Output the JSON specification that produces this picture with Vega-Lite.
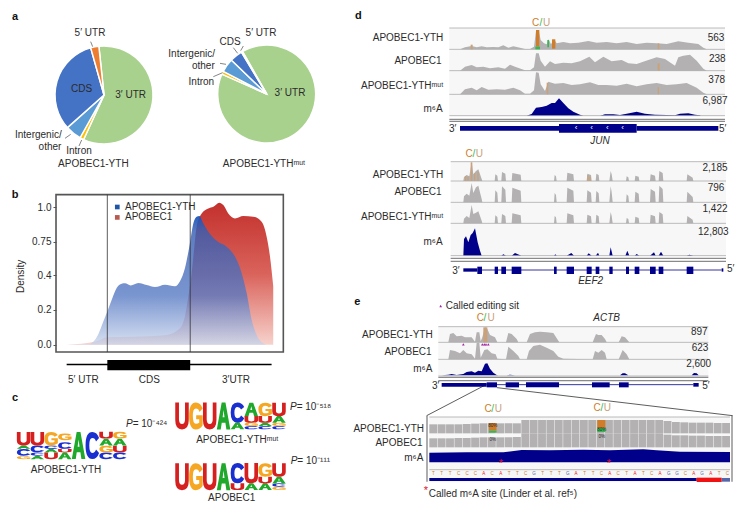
{"$schema":"https://vega.github.io/schema/vega-lite/v6.json","width":746,"height":506,"autosize":{"type":"none"},"padding":0,"background":"white","config":{"view":{"stroke":null},"font":"Liberation Sans","text":{"fontSize":10,"color":"#2b2b2b","baseline":"middle"}},
"datasets":{
"pie1":[{"pie":"APOBEC1-YTH","region":"3′ UTR","rank":1,"pct":58.5},{"pie":"APOBEC1-YTH","region":"Intron","rank":2,"pct":1.3},{"pie":"APOBEC1-YTH","region":"Intergenic/other","rank":3,"pct":5.3},{"pie":"APOBEC1-YTH","region":"CDS","rank":4,"pct":32.2},{"pie":"APOBEC1-YTH","region":"5′ UTR","rank":5,"pct":2.7}],
"pie2":[{"pie":"APOBEC1-YTHmut","region":"3′ UTR","rank":1,"pct":89.9},{"pie":"APOBEC1-YTHmut","region":"Intron","rank":2,"pct":1},{"pie":"APOBEC1-YTHmut","region":"Intergenic/other","rank":3,"pct":4.5},{"pie":"APOBEC1-YTHmut","region":"CDS","rank":4,"pct":4.2},{"pie":"APOBEC1-YTHmut","region":"5′ UTR","rank":5,"pct":0.4}],
"blue":[{"x":0.32,"y":0},{"x":10.84,"y":0.002},{"x":13.26,"y":0.017},{"x":15.69,"y":0.06},{"x":18.12,"y":0.132},{"x":20.06,"y":0.19},{"x":22.16,"y":0.256},{"x":24.59,"y":0.325},{"x":27.02,"y":0.35},{"x":28.64,"y":0.352},{"x":31.39,"y":0.34},{"x":35.11,"y":0.354},{"x":39.15,"y":0.342},{"x":43.2,"y":0.331},{"x":48.05,"y":0.344},{"x":52.9,"y":0.335},{"x":55.33,"y":0.364},{"x":57.76,"y":0.473},{"x":59.86,"y":0.698},{"x":61.8,"y":0.882},{"x":63.42,"y":0.93},{"x":64.72,"y":0.935},{"x":66.66,"y":0.882},{"x":69.09,"y":0.822},{"x":73.13,"y":0.757},{"x":77.98,"y":0.698},{"x":82.03,"y":0.594},{"x":85.27,"y":0.421},{"x":87.69,"y":0.296},{"x":90.12,"y":0.142},{"x":92.55,"y":0.056},{"x":95.78,"y":0.008},{"x":97.4,"y":0},{"x":100.6,"y":0}],
"red":[{"x":0.32,"y":0},{"x":14.9,"y":0.02},{"x":20.06,"y":0.042},{"x":32.68,"y":0.046},{"x":48.86,"y":0.056},{"x":55.33,"y":0.094},{"x":57.76,"y":0.162},{"x":59.4,"y":0.277},{"x":61.0,"y":0.42},{"x":62.3,"y":0.698},{"x":63.42,"y":0.858},{"x":65.85,"y":0.954},{"x":69.09,"y":0.99},{"x":71.52,"y":1.002},{"x":74.42,"y":1.031},{"x":76.37,"y":1.014},{"x":78.79,"y":0.954},{"x":82.03,"y":0.918},{"x":86.07,"y":0.935},{"x":90.93,"y":0.93},{"x":94.97,"y":0.894},{"x":97.4,"y":0.786},{"x":99.02,"y":0.594},{"x":100.6,"y":0.335}],
"logo1":[{"p":1,"y":1.7,"g":"G025","l":"G"},{"p":1,"y":6.8,"g":"C05","l":"C"},{"p":1,"y":11.9,"g":"A025","l":"A"},{"p":1,"y":20.2,"g":"U1","l":"U"},{"p":2,"y":1.7,"g":"A025","l":"A"},{"p":2,"y":5.1,"g":"C025","l":"C"},{"p":2,"y":10.1,"g":"C05","l":"C"},{"p":2,"y":20.2,"g":"U1","l":"U"},{"p":3,"y":3.4,"g":"U05","l":"U"},{"p":3,"y":8.4,"g":"A025","l":"A"},{"p":3,"y":11.8,"g":"C025","l":"C"},{"p":3,"y":20.2,"g":"G1","l":"G"},{"p":4,"y":3.4,"g":"A05","l":"A"},{"p":4,"y":8.4,"g":"U025","l":"U"},{"p":4,"y":13.5,"g":"C05","l":"C"},{"p":4,"y":22,"g":"G05","l":"G"},{"p":5,"y":13.5,"g":"A2","l":"A"},{"p":6,"y":13.5,"g":"C2","l":"C"},{"p":7,"y":3.4,"g":"C05","l":"C"},{"p":7,"y":10,"g":"G05","l":"G"},{"p":7,"y":16.9,"g":"A05","l":"A"},{"p":7,"y":23.6,"g":"U05","l":"U"},{"p":8,"y":3.4,"g":"C05","l":"C"},{"p":8,"y":10,"g":"U05","l":"U"},{"p":8,"y":16.9,"g":"A05","l":"A"},{"p":8,"y":23.6,"g":"G05","l":"G"}],
"logo2":[{"p":1,"y":13.5,"g":"U2","l":"U"},{"p":2,"y":13.5,"g":"G2","l":"G"},{"p":3,"y":13.5,"g":"U2","l":"U"},{"p":4,"y":13.5,"g":"A2","l":"A"},{"p":5,"y":3.4,"g":"A05","l":"A"},{"p":5,"y":17,"g":"C15","l":"C"},{"p":6,"y":1.7,"g":"C025","l":"C"},{"p":6,"y":5.1,"g":"G025","l":"G"},{"p":6,"y":10,"g":"U05","l":"U"},{"p":6,"y":20.2,"g":"A1","l":"A"},{"p":7,"y":1.7,"g":"C025","l":"C"},{"p":7,"y":5,"g":"A025","l":"A"},{"p":7,"y":10,"g":"U05","l":"U"},{"p":7,"y":20.2,"g":"G1","l":"G"},{"p":8,"y":1.7,"g":"C025","l":"C"},{"p":8,"y":5,"g":"G025","l":"G"},{"p":8,"y":10,"g":"A05","l":"A"},{"p":8,"y":20.2,"g":"U1","l":"U"}],
"logo3":[{"p":1,"y":13.5,"g":"U2","l":"U"},{"p":2,"y":13.5,"g":"G2","l":"G"},{"p":3,"y":13.5,"g":"U2","l":"U"},{"p":4,"y":13.5,"g":"A2","l":"A"},{"p":5,"y":3.4,"g":"U05","l":"U"},{"p":5,"y":17,"g":"C15","l":"C"},{"p":6,"y":3.4,"g":"A05","l":"A"},{"p":6,"y":17,"g":"U15","l":"U"},{"p":7,"y":3.4,"g":"A05","l":"A"},{"p":7,"y":10,"g":"U05","l":"U"},{"p":7,"y":20.2,"g":"G1","l":"G"},{"p":8,"y":1.7,"g":"G025","l":"G"},{"p":8,"y":5,"g":"C025","l":"C"},{"p":8,"y":10,"g":"A05","l":"A"},{"p":8,"y":20.2,"g":"U1","l":"U"}],
"d1a":[{"x":330,"h":0},{"x":345,"h":6},{"x":365,"h":10},{"x":380,"h":6},{"x":395,"h":9},{"x":410,"h":6},{"x":430,"h":7},{"x":445,"h":6},{"x":460,"h":12},{"x":475,"h":5},{"x":490,"h":9},{"x":510,"h":5},{"x":525,"h":1},{"x":540,"h":1},{"x":552,"h":8},{"x":558,"h":55},{"x":566,"h":58},{"x":572,"h":28},{"x":582,"h":18},{"x":590,"h":15},{"x":596,"h":30},{"x":603,"h":15},{"x":612,"h":30},{"x":620,"h":18},{"x":640,"h":22},{"x":660,"h":18},{"x":685,"h":20},{"x":715,"h":25},{"x":740,"h":20},{"x":770,"h":22},{"x":800,"h":18},{"x":830,"h":22},{"x":860,"h":16},{"x":890,"h":20},{"x":920,"h":18},{"x":950,"h":16},{"x":985,"h":24},{"x":1015,"h":20},{"x":1045,"h":16},{"x":1060,"h":5},{"x":1070,"h":0}],
"d1b":[{"x":330,"h":0},{"x":345,"h":12},{"x":365,"h":17},{"x":380,"h":10},{"x":400,"h":12},{"x":420,"h":7},{"x":445,"h":10},{"x":465,"h":6},{"x":480,"h":18},{"x":495,"h":12},{"x":525,"h":1},{"x":540,"h":1},{"x":552,"h":10},{"x":558,"h":52},{"x":566,"h":52},{"x":572,"h":30},{"x":585,"h":12},{"x":600,"h":28},{"x":615,"h":20},{"x":640,"h":24},{"x":665,"h":22},{"x":690,"h":28},{"x":718,"h":42},{"x":735,"h":25},{"x":760,"h":42},{"x":785,"h":28},{"x":815,"h":32},{"x":835,"h":22},{"x":860,"h":20},{"x":895,"h":32},{"x":920,"h":40},{"x":945,"h":35},{"x":975,"h":15},{"x":985,"h":40},{"x":1000,"h":45},{"x":1020,"h":48},{"x":1040,"h":30},{"x":1060,"h":6},{"x":1070,"h":0}],
"d1c":[{"x":330,"h":0},{"x":345,"h":15},{"x":365,"h":20},{"x":380,"h":12},{"x":395,"h":22},{"x":415,"h":14},{"x":440,"h":15},{"x":465,"h":14},{"x":490,"h":20},{"x":510,"h":12},{"x":525,"h":2},{"x":540,"h":2},{"x":552,"h":12},{"x":558,"h":66},{"x":566,"h":65},{"x":572,"h":30},{"x":585,"h":10},{"x":595,"h":38},{"x":615,"h":32},{"x":640,"h":34},{"x":665,"h":28},{"x":690,"h":30},{"x":720,"h":36},{"x":745,"h":28},{"x":770,"h":28},{"x":800,"h":26},{"x":830,"h":32},{"x":860,"h":24},{"x":890,"h":30},{"x":920,"h":34},{"x":950,"h":28},{"x":980,"h":30},{"x":1010,"h":34},{"x":1040,"h":20},{"x":1060,"h":5},{"x":1070,"h":0}],
"d1m":[{"x":530,"h":0},{"x":545,"h":5},{"x":558,"h":24},{"x":575,"h":26},{"x":590,"h":30},{"x":605,"h":38},{"x":615,"h":38},{"x":627,"h":52},{"x":640,"h":38},{"x":655,"h":22},{"x":670,"h":12},{"x":690,"h":3},{"x":700,"h":0},{"x":750,"h":0},{"x":765,"h":4},{"x":790,"h":4},{"x":810,"h":2},{"x":830,"h":6},{"x":860,"h":12},{"x":885,"h":6},{"x":915,"h":3},{"x":950,"h":2},{"x":975,"h":1},{"x":990,"h":6},{"x":1015,"h":7},{"x":1035,"h":3},{"x":1050,"h":1},{"x":1052,"h":0}],
"d2a":[{"x":340,"h":0},{"x":342,"h":12},{"x":350,"h":18},{"x":358,"h":14},{"x":365,"h":58},{"x":370,"h":20},{"x":378,"h":30},{"x":385,"h":35},{"x":395,"h":6},{"x":397,"h":0},{"x":434,"h":0},{"x":436,"h":20},{"x":442,"h":16},{"x":444,"h":0},{"x":454,"h":0},{"x":456,"h":27},{"x":466,"h":22},{"x":468,"h":0},{"x":485,"h":0},{"x":487,"h":24},{"x":512,"h":19},{"x":514,"h":0},{"x":612,"h":0},{"x":614,"h":18},{"x":618,"h":14},{"x":620,"h":0},{"x":650,"h":0},{"x":652,"h":25},{"x":670,"h":20},{"x":672,"h":0},{"x":710,"h":0},{"x":712,"h":22},{"x":723,"h":18},{"x":725,"h":0},{"x":737,"h":0},{"x":739,"h":22},{"x":746,"h":18},{"x":748,"h":0},{"x":778,"h":0},{"x":782,"h":30},{"x":785,"h":20},{"x":788,"h":0},{"x":828,"h":0},{"x":830,"h":14},{"x":835,"h":11},{"x":837,"h":0},{"x":854,"h":0},{"x":856,"h":16},{"x":866,"h":13},{"x":868,"h":0},{"x":900,"h":0},{"x":902,"h":20},{"x":915,"h":16},{"x":917,"h":0},{"x":926,"h":0},{"x":928,"h":30},{"x":938,"h":24},{"x":940,"h":0},{"x":1010,"h":0},{"x":1012,"h":20},{"x":1028,"h":10},{"x":1030,"h":0}],
"d2b":[{"x":340,"h":0},{"x":342,"h":18},{"x":350,"h":26},{"x":358,"h":20},{"x":365,"h":58},{"x":370,"h":28},{"x":378,"h":45},{"x":385,"h":50},{"x":395,"h":10},{"x":397,"h":0},{"x":434,"h":0},{"x":436,"h":36},{"x":442,"h":29},{"x":444,"h":0},{"x":454,"h":0},{"x":456,"h":48},{"x":466,"h":38},{"x":468,"h":0},{"x":485,"h":0},{"x":487,"h":44},{"x":512,"h":35},{"x":514,"h":0},{"x":612,"h":0},{"x":614,"h":28},{"x":618,"h":22},{"x":620,"h":0},{"x":650,"h":0},{"x":652,"h":44},{"x":670,"h":35},{"x":672,"h":0},{"x":710,"h":0},{"x":712,"h":36},{"x":723,"h":29},{"x":725,"h":0},{"x":737,"h":0},{"x":739,"h":34},{"x":746,"h":27},{"x":748,"h":0},{"x":778,"h":0},{"x":782,"h":48},{"x":785,"h":30},{"x":788,"h":0},{"x":828,"h":0},{"x":830,"h":24},{"x":835,"h":19},{"x":837,"h":0},{"x":854,"h":0},{"x":856,"h":32},{"x":866,"h":26},{"x":868,"h":0},{"x":900,"h":0},{"x":902,"h":40},{"x":915,"h":32},{"x":917,"h":0},{"x":926,"h":0},{"x":928,"h":50},{"x":938,"h":40},{"x":940,"h":0},{"x":1010,"h":0},{"x":1012,"h":32},{"x":1028,"h":16},{"x":1030,"h":0}],
"d2c":[{"x":340,"h":0},{"x":342,"h":14},{"x":350,"h":22},{"x":358,"h":16},{"x":365,"h":55},{"x":370,"h":28},{"x":378,"h":32},{"x":385,"h":36},{"x":395,"h":8},{"x":397,"h":0},{"x":434,"h":0},{"x":436,"h":24},{"x":442,"h":19},{"x":444,"h":0},{"x":454,"h":0},{"x":456,"h":28},{"x":466,"h":22},{"x":468,"h":0},{"x":485,"h":0},{"x":487,"h":30},{"x":512,"h":24},{"x":514,"h":0},{"x":612,"h":0},{"x":614,"h":22},{"x":618,"h":18},{"x":620,"h":0},{"x":650,"h":0},{"x":652,"h":30},{"x":670,"h":24},{"x":672,"h":0},{"x":710,"h":0},{"x":712,"h":26},{"x":723,"h":21},{"x":725,"h":0},{"x":737,"h":0},{"x":739,"h":26},{"x":746,"h":21},{"x":748,"h":0},{"x":778,"h":0},{"x":782,"h":34},{"x":785,"h":22},{"x":788,"h":0},{"x":828,"h":0},{"x":830,"h":16},{"x":835,"h":13},{"x":837,"h":0},{"x":854,"h":0},{"x":856,"h":20},{"x":866,"h":16},{"x":868,"h":0},{"x":900,"h":0},{"x":902,"h":26},{"x":915,"h":21},{"x":917,"h":0},{"x":926,"h":0},{"x":928,"h":34},{"x":938,"h":27},{"x":940,"h":0},{"x":1010,"h":0},{"x":1012,"h":22},{"x":1028,"h":11},{"x":1030,"h":0}],
"d2m":[{"x":340,"h":0},{"x":342,"h":50},{"x":348,"h":58},{"x":355,"h":40},{"x":362,"h":62},{"x":368,"h":68},{"x":375,"h":82},{"x":383,"h":40},{"x":390,"h":15},{"x":395,"h":0},{"x":454,"h":0},{"x":460,"h":4},{"x":468,"h":0},{"x":485,"h":0},{"x":495,"h":8},{"x":514,"h":0},{"x":612,"h":0},{"x":616,"h":4},{"x":620,"h":0},{"x":650,"h":0},{"x":664,"h":8},{"x":672,"h":0},{"x":710,"h":0},{"x":716,"h":7},{"x":725,"h":0},{"x":737,"h":0},{"x":744,"h":9},{"x":748,"h":0},{"x":778,"h":0},{"x":782,"h":25},{"x":788,"h":0},{"x":826,"h":0},{"x":832,"h":15},{"x":838,"h":0},{"x":854,"h":0},{"x":860,"h":5},{"x":868,"h":0},{"x":900,"h":0},{"x":912,"h":10},{"x":917,"h":0},{"x":926,"h":0},{"x":933,"h":12},{"x":940,"h":0},{"x":1010,"h":0},{"x":1018,"h":3},{"x":1030,"h":0}],
"ea":[{"x":295,"h":0},{"x":300,"h":25},{"x":310,"h":28},{"x":320,"h":18},{"x":335,"h":20},{"x":345,"h":15},{"x":365,"h":15},{"x":375,"h":2},{"x":380,"h":30},{"x":388,"h":30},{"x":392,"h":3},{"x":397,"h":15},{"x":405,"h":45},{"x":412,"h":40},{"x":420,"h":22},{"x":435,"h":15},{"x":442,"h":0},{"x":468,"h":0},{"x":475,"h":28},{"x":485,"h":25},{"x":500,"h":10},{"x":505,"h":0},{"x":530,"h":0},{"x":540,"h":25},{"x":555,"h":30},{"x":570,"h":32},{"x":590,"h":30},{"x":610,"h":28},{"x":625,"h":5},{"x":628,"h":0},{"x":728,"h":0},{"x":738,"h":25},{"x":745,"h":22},{"x":755,"h":22},{"x":765,"h":10},{"x":770,"h":0},{"x":806,"h":0},{"x":815,"h":18},{"x":825,"h":15},{"x":838,"h":0}],
"eb":[{"x":295,"h":0},{"x":300,"h":28},{"x":315,"h":25},{"x":330,"h":18},{"x":340,"h":28},{"x":350,"h":18},{"x":365,"h":15},{"x":375,"h":2},{"x":380,"h":50},{"x":388,"h":50},{"x":392,"h":5},{"x":397,"h":15},{"x":403,"h":28},{"x":412,"h":30},{"x":425,"h":18},{"x":437,"h":15},{"x":442,"h":2},{"x":468,"h":0},{"x":475,"h":38},{"x":490,"h":25},{"x":505,"h":10},{"x":510,"h":0},{"x":530,"h":0},{"x":537,"h":25},{"x":550,"h":40},{"x":570,"h":44},{"x":590,"h":35},{"x":610,"h":25},{"x":625,"h":8},{"x":640,"h":2},{"x":728,"h":0},{"x":735,"h":25},{"x":745,"h":20},{"x":755,"h":28},{"x":765,"h":20},{"x":770,"h":0},{"x":806,"h":0},{"x":818,"h":28},{"x":830,"h":15},{"x":838,"h":0}],
"em":[{"x":275,"h":0},{"x":295,"h":2},{"x":305,"h":4},{"x":320,"h":1},{"x":340,"h":4},{"x":350,"h":10},{"x":365,"h":12},{"x":375,"h":8},{"x":385,"h":14},{"x":395,"h":12},{"x":405,"h":35},{"x":412,"h":36},{"x":420,"h":20},{"x":430,"h":8},{"x":440,"h":1},{"x":445,"h":0},{"x":470,"h":0},{"x":480,"h":2},{"x":495,"h":0},{"x":810,"h":0},{"x":818,"h":6},{"x":825,"h":6},{"x":835,"h":0},{"x":1025,"h":0},{"x":1032,"h":7},{"x":1040,"h":6},{"x":1046,"h":0}],
"zm":[{"x":238,"h":29},{"x":350,"h":30},{"x":460,"h":30},{"x":515,"h":37},{"x":600,"h":36},{"x":700,"h":38},{"x":780,"h":36},{"x":880,"h":39},{"x":920,"h":36},{"x":990,"h":32},{"x":1140,"h":31}],
"barsA":[{"b":0,"h":27},{"b":1,"h":27},{"b":2,"h":27},{"b":3,"h":27},{"b":4,"h":28},{"b":5,"h":29},{"b":6,"h":30},{"b":7,"h":30},{"b":8,"h":30},{"b":9,"h":30},{"b":10,"h":30},{"b":11,"h":40},{"b":12,"h":40},{"b":13,"h":40},{"b":14,"h":40},{"b":15,"h":40},{"b":16,"h":40},{"b":17,"h":40},{"b":18,"h":40},{"b":19,"h":40},{"b":20,"h":40},{"b":21,"h":40},{"b":22,"h":40},{"b":23,"h":40},{"b":24,"h":40},{"b":25,"h":40},{"b":26,"h":40},{"b":27,"h":40},{"b":28,"h":37},{"b":29,"h":34},{"b":30,"h":33},{"b":31,"h":32},{"b":32,"h":32},{"b":33,"h":32},{"b":34,"h":31},{"b":35,"h":31}],
"barsB":[{"b":0,"h":27},{"b":1,"h":27},{"b":2,"h":27},{"b":3,"h":28},{"b":4,"h":28},{"b":5,"h":29},{"b":6,"h":30},{"b":7,"h":30},{"b":8,"h":30},{"b":9,"h":30},{"b":10,"h":31},{"b":11,"h":42},{"b":12,"h":42},{"b":13,"h":42},{"b":14,"h":42},{"b":15,"h":42},{"b":16,"h":42},{"b":17,"h":42},{"b":18,"h":42},{"b":19,"h":42},{"b":20,"h":42},{"b":21,"h":42},{"b":22,"h":42},{"b":23,"h":42},{"b":24,"h":42},{"b":25,"h":42},{"b":26,"h":42},{"b":27,"h":42},{"b":28,"h":38},{"b":29,"h":36},{"b":30,"h":36},{"b":31,"h":35},{"b":32,"h":35},{"b":33,"h":34},{"b":34,"h":34},{"b":35,"h":34}]
},
"resolve":{"scale":{"x":"independent","y":"independent","color":"independent","shape":"independent","theta":"independent"},"axis":{"y":"independent","x":"independent"}},
"layer":[
{"data":{"name":"pie1"},"mark":{"type":"arc","outerRadius":49,"stroke":"white","strokeWidth":1.5},"encoding":{"x":{"field":"pie","type":"nominal","scale":{"type":"point","range":[104,104]},"axis":null},"y":{"field":"pie","type":"nominal","scale":{"type":"point","range":[95,95]},"axis":null},"theta":{"field":"pct","type":"quantitative","scale":{"domain":[0,100],"range":[-0.105,6.178]}},"order":{"field":"rank"},"color":{"field":"region","type":"nominal","legend":null,"scale":{"domain":["3′ UTR","Intron","Intergenic/other","CDS","5′ UTR"],"range":["#a9d18e","#ffc000","#5b9bd5","#4472c4","#ed7d31"]}}}},
{"data":{"name":"pie2"},"mark":{"type":"arc","outerRadius":49,"stroke":"white","strokeWidth":1.5},"encoding":{"x":{"field":"pie","type":"nominal","scale":{"type":"point","range":[266.7,266.7]},"axis":null},"y":{"field":"pie","type":"nominal","scale":{"type":"point","range":[94,94]},"axis":null},"theta":{"field":"pct","type":"quantitative","scale":{"domain":[0,100],"range":[-0.517,5.766]}},"order":{"field":"rank"},"color":{"field":"region","type":"nominal","legend":null,"scale":{"domain":["3′ UTR","Intron","Intergenic/other","CDS","5′ UTR"],"range":["#a9d18e","#ffc000","#5b9bd5","#4472c4","#ed7d31"]}}}},
{"encoding":{"x":{"field":"x","type":"quantitative","scale":{"domain":[0,100],"range":[66,272]},"axis":null},"y":{"field":"y","type":"quantitative","scale":{"domain":[0,0.2,0.4,0.75,1],"range":[344.7,309.7,275,241.7,207]},"axis":{"orient":"left","offset":-56,"values":[0,0.2,0.4,0.75,1],"labelExpr":"datum.value==0.75?'0.75':format(datum.value,'.1f')","title":"Density","titleFontSize":10,"titleFontWeight":"normal","titleColor":"#2b2b2b","labelFontSize":10,"labelColor":"#2b2b2b","grid":false,"domain":false,"tickSize":3,"tickColor":"#555","labelPadding":2,"titlePadding":6}}},
"layer":[
{"data":{"name":"red"},"mark":{"type":"area","interpolate":"monotone","color":{"x1":0,"y1":0,"x2":0,"y2":1,"gradient":"linear","stops":[{"offset":0,"color":"#c3302c"},{"offset":0.5,"color":"#d9635b"},{"offset":1,"color":"#f7d2cc"}]}}},
{"data":{"name":"blue"},"mark":{"type":"area","interpolate":"monotone","color":{"x1":0,"y1":0,"x2":0,"y2":1,"gradient":"linear","stops":[{"offset":0,"color":"rgba(25,85,185,0.95)"},{"offset":0.12,"color":"rgba(55,95,180,0.82)"},{"offset":0.62,"color":"rgba(85,120,195,0.78)"},{"offset":1,"color":"rgba(200,213,236,0.75)"}]}}},
{"data":{"values":[{"x":-4.85,"x2":105.5,"y":1.089,"y2":-0.042}]},"mark":{"type":"rect","fill":null,"stroke":"#555","strokeWidth":1.6},"encoding":{"x2":{"field":"x2"},"y2":{"field":"y2"}}},
{"data":{"values":[{"x":20.06,"x2":20.06,"y":1.089,"y2":-0.042},{"x":60.3,"x2":60.3,"y":1.089,"y2":-0.042}]},"mark":{"type":"rule","color":"#333","strokeWidth":0.8},"encoding":{"x2":{"field":"x2"},"y2":{"field":"y2"}}},
{"data":{"values":[{"x":0.32,"x2":99.8,"y":-0.113,"y2":-0.113}]},"mark":{"type":"rule","color":"#000","strokeWidth":1.5},"encoding":{"x2":{"field":"x2"},"y2":{"field":"y2"}}},
{"data":{"values":[{"x":20.06,"x2":60.3,"y":-0.088,"y2":-0.146}]},"mark":{"type":"rect","color":"#000"},"encoding":{"x2":{"field":"x2"},"y2":{"field":"y2"}}},
{"data":{"values":[{"x":24.9,"y":1,"k":"APOBEC1-YTH"},{"x":24.9,"y":0.925,"k":"APOBEC1"}]},"mark":{"type":"square","size":22,"opacity":1},"encoding":{"color":{"field":"k","type":"nominal","legend":null,"scale":{"domain":["APOBEC1-YTH","APOBEC1"],"range":["#1f55a8","#b95a50"]}}}}
]},
{"resolve":{"scale":{"x":"independent","y":"independent"}},"encoding":{"shape":{"field":"g","type":"nominal","legend":null,"scale":{"domain":["U2","G2","A2","C2","A15","C15","U15","U1","G1","A1","C1","U05","G05","A05","C05","U025","G025","A025","C025"],"range":[
"M-1 -2H-.45V.5Q-.45 1.2 0 1.2Q.45 1.2 .45 .5V-2H1V.6Q1 2 0 2Q-1 2 -1 .6Z",
"M1 -1.1Q.7 -2 0 -2Q-1 -2 -1 0Q-1 2 0 2Q.6 2 1 1.4V-.1H.05V.5H.5V1Q.3 1.16 0 1.16Q-.45 1.16 -.45 0Q-.45 -1.1 0 -1.1Q.4 -1.1 .55 -.6Z",
"M-.28 -2H.28L1 2H.42L.27 1H-.27L-.42 2H-1ZM0 -.9L-.14 .2H.14Z",
"M1 -1.1Q.7 -2 0 -2Q-1 -2 -1 0Q-1 2 0 2Q.7 2 1 1.1L.55 .6Q.4 1.1 0 1.1Q-.45 1.1 -.45 0Q-.45 -1.1 0 -1.1Q.4 -1.1 .55 -.6Z",
"M-.28 -1.5H.28L1 1.5H.42L.27 .75H-.27L-.42 1.5H-1ZM0 -.68L-.14 .15H.14Z",
"M1 -.83Q.7 -1.5 0 -1.5Q-1 -1.5 -1 0Q-1 1.5 0 1.5Q.7 1.5 1 .83L.55 .45Q.4 .83 0 .83Q-.45 .83 -.45 0Q-.45 -.83 0 -.83Q.4 -.83 .55 -.45Z",
"M-1 -1.5H-.45V.38Q-.45 .9 0 .9Q.45 .9 .45 .38V-1.5H1V.45Q1 1.5 0 1.5Q-1 1.5 -1 .45Z",
"M-1 -1H-.45V.25Q-.45 .6 0 .6Q.45 .6 .45 .25V-1H1V.3Q1 1 0 1Q-1 1 -1 .3Z",
"M1 -.55Q.7 -1 0 -1Q-1 -1 -1 0Q-1 1 0 1Q.6 1 1 .7V-.05H.05V.25H.5V.5Q.3 .58 0 .58Q-.45 .58 -.45 0Q-.45 -.55 0 -.55Q.4 -.55 .55 -.3Z",
"M-.28 -1H.28L1 1H.42L.27 .5H-.27L-.42 1H-1ZM0 -.45L-.14 .1H.14Z",
"M1 -.55Q.7 -1 0 -1Q-1 -1 -1 0Q-1 1 0 1Q.7 1 1 .55L.55 .3Q.4 .55 0 .55Q-.45 .55 -.45 0Q-.45 -.55 0 -.55Q.4 -.55 .55 -.3Z",
"M-1 -.5H-.45V.13Q-.45 .3 0 .3Q.45 .3 .45 .13V-.5H1V.15Q1 .5 0 .5Q-1 .5 -1 .15Z",
"M1 -.28Q.7 -.5 0 -.5Q-1 -.5 -1 0Q-1 .5 0 .5Q.6 .5 1 .35V-.03H.05V.13H.5V.25Q.3 .29 0 .29Q-.45 .29 -.45 0Q-.45 -.28 0 -.28Q.4 -.28 .55 -.15Z",
"M-.28 -.5H.28L1 .5H.42L.27 .25H-.27L-.42 .5H-1ZM0 -.23L-.14 .05H.14Z",
"M1 -.28Q.7 -.5 0 -.5Q-1 -.5 -1 0Q-1 .5 0 .5Q.7 .5 1 .28L.55 .15Q.4 .28 0 .28Q-.45 .28 -.45 0Q-.45 -.28 0 -.28Q.4 -.28 .55 -.15Z",
"M-1 -.25H-.45V.06Q-.45 .15 0 .15Q.45 .15 .45 .06V-.25H1V.08Q1 .25 0 .25Q-1 .25 -1 .08Z",
"M1 -.14Q.7 -.25 0 -.25Q-1 -.25 -1 0Q-1 .25 0 .25Q.6 .25 1 .18V-.02H.05V.07H.5V.13Q.3 .15 0 .15Q-.45 .15 -.45 0Q-.45 -.14 0 -.14Q.4 -.14 .55 -.08Z",
"M-.28 -.25H.28L1 .25H.42L.27 .13H-.27L-.42 .25H-1Z",
"M1 -.14Q.7 -.25 0 -.25Q-1 -.25 -1 0Q-1 .25 0 .25Q.7 .25 1 .14L.55 .08Q.4 .14 0 .14Q-.45 .14 -.45 0Q-.45 -.14 0 -.14Q.4 -.14 .55 -.08Z"
]}},"color":{"field":"l","type":"nominal","legend":null,"scale":{"domain":["A","C","G","U"],"range":["#1fa82b","#1a2fcf","#f5a623","#d61f1f"]}}},
"layer":[
{"data":{"name":"logo1"},"mark":{"type":"point","filled":true,"size":182,"opacity":1,"strokeWidth":0},"encoding":{"x":{"field":"p","type":"quantitative","scale":{"domain":[1,8],"range":[23.6,119.8]},"axis":null},"y":{"field":"y","type":"quantitative","scale":{"domain":[0,27],"range":[459.3,431.7]},"axis":null}}},
{"data":{"name":"logo2"},"mark":{"type":"point","filled":true,"size":182,"opacity":1,"strokeWidth":0},"encoding":{"x":{"field":"p","type":"quantitative","scale":{"domain":[1,8],"range":[182,279]},"axis":null},"y":{"field":"y","type":"quantitative","scale":{"domain":[0,27],"range":[429.3,402.7]},"axis":null}}},
{"data":{"name":"logo3"},"mark":{"type":"point","filled":true,"size":182,"opacity":1,"strokeWidth":0},"encoding":{"x":{"field":"p","type":"quantitative","scale":{"domain":[1,8],"range":[182,279]},"axis":null},"y":{"field":"y","type":"quantitative","scale":{"domain":[0,27],"range":[490,463.3]},"axis":null}}}
]},
{"encoding":{"x":{"field":"x","type":"quantitative","scale":{"domain":[0,1020],"range":[0,340]},"axis":null},"y":{"field":"y","type":"quantitative","scale":{"domain":[0,1518],"range":[0,506]},"axis":null}},
"layer":[
{"data":{"values":[{"x":272,"x2":278,"y":125,"y2":140},{"x":195,"x2":212,"y":415,"y2":403},{"x":237,"x2":245,"y":438,"y2":420},{"x":713,"x2":700,"y":160,"y2":143},{"x":722,"x2":730,"y":152,"y2":138},{"x":660,"x2":678,"y":190,"y2":193},{"x":640,"x2":668,"y":230,"y2":218}]},"mark":{"type":"rule","color":"#333","strokeWidth":0.6},"encoding":{"x2":{"field":"x2"},"y2":{"field":"y2"}}},
{"data":{"values":[{"x":270,"y":100,"t":"5′ UTR"},{"x":245,"y":266,"t":"CDS"},{"x":392,"y":286,"t":"3′ UTR"},{"x":115,"y":406,"t":"Intergenic/"},{"x":150,"y":442,"t":"other"},{"x":237,"y":454,"t":"Intron"},{"x":280,"y":493,"t":"APOBEC1-YTH"},{"x":783,"y":98,"t":"5′ UTR"},{"x":690,"y":126,"t":"CDS"},{"x":575,"y":163,"t":"Intergenic/"},{"x":610,"y":198,"t":"other"},{"x":604,"y":246,"t":"Intron"},{"x":870,"y":280,"t":"3′ UTR"},{"x":792,"y":492,"t":"APOBEC1-YTHᵐᵘᵗ"},{"x":250,"y":1140,"t":"5′ UTR"},{"x":448,"y":1140,"t":"CDS"},{"x":708,"y":1140,"t":"3′UTR"},{"x":198,"y":1411,"t":"APOBEC1-YTH"},{"x":712,"y":1320,"t":"APOBEC1-YTHᵐᵘᵗ"},{"x":695,"y":1495,"t":"APOBEC1"}]},"mark":{"type":"text","align":"center"},"encoding":{"text":{"field":"t"}}},
{"data":{"values":[{"x":375,"y":621,"t":"APOBEC1-YTH"},{"x":375,"y":652,"t":"APOBEC1"},{"x":398,"y":1273,"t":"= 10⁻⁴²⁴"},{"x":890,"y":1220,"t":"= 10⁻⁵¹⁸"},{"x":892,"y":1382,"t":"= 10⁻¹¹¹"}]},"mark":{"type":"text","align":"left"},"encoding":{"text":{"field":"t"}}},
{"data":{"values":[{"x":378,"y":1273,"t":"P"},{"x":870,"y":1220,"t":"P"},{"x":872,"y":1382,"t":"P"}]},"mark":{"type":"text","align":"left","fontStyle":"italic"},"encoding":{"text":{"field":"t"}}},
{"data":{"values":[{"x":45,"y":50,"t":"a"},{"x":45,"y":585,"t":"b"},{"x":45,"y":1195,"t":"c"}]},"mark":{"type":"text","align":"center","fontWeight":"bold","fontSize":11,"color":"#111"},"encoding":{"text":{"field":"t"}}}
]},
{"encoding":{"x":{"field":"x","type":"quantitative","scale":{"domain":[0,1188],"range":[350,746]},"axis":null},"y":{"field":"y","type":"quantitative","scale":{"domain":[0,1518],"range":[0,506]},"axis":null}},
"layer":[{"data":{"values":[{"x":298,"x2":1125,"y":84,"y2":348},{"x":302,"x2":1128,"y":485,"y2":768},{"x":265,"x2":1075,"y":980,"y2":1128},{"x":238,"x2":1140,"y":1250,"y2":1447}]},"mark":{"type":"rect","color":"#f7f7f7"},"encoding":{"x2":{"field":"x2"},"y2":{"field":"y2"}}}]},
{"data":{"name":"d1a"},"mark":{"type":"area","color":"#b3b1b1"},"encoding":{"x":{"field":"x","type":"quantitative","scale":{"domain":[0,1188],"range":[350,746]},"axis":null},"y":{"field":"h","type":"quantitative","scale":{"domain":[0,64],"range":[49.33,28]},"axis":null}}},
{"data":{"name":"d1b"},"mark":{"type":"area","color":"#b3b1b1"},"encoding":{"x":{"field":"x","type":"quantitative","scale":{"domain":[0,1188],"range":[350,746]},"axis":null},"y":{"field":"h","type":"quantitative","scale":{"domain":[0,64],"range":[70.67,49.33]},"axis":null}}},
{"data":{"name":"d1c"},"mark":{"type":"area","color":"#b3b1b1"},"encoding":{"x":{"field":"x","type":"quantitative","scale":{"domain":[0,1188],"range":[350,746]},"axis":null},"y":{"field":"h","type":"quantitative","scale":{"domain":[0,64],"range":[94.33,73]},"axis":null}}},
{"data":{"name":"d1m"},"mark":{"type":"area","color":"#00008b"},"encoding":{"x":{"field":"x","type":"quantitative","scale":{"domain":[0,1188],"range":[350,746]},"axis":null},"y":{"field":"h","type":"quantitative","scale":{"domain":[0,64],"range":[115.67,94.33]},"axis":null}}},
{"data":{"name":"d2a"},"mark":{"type":"area","color":"#b3b1b1"},"encoding":{"x":{"field":"x","type":"quantitative","scale":{"domain":[0,1188],"range":[350,746]},"axis":null},"y":{"field":"h","type":"quantitative","scale":{"domain":[0,64],"range":[181,159.67]},"axis":null}}},
{"data":{"name":"d2b"},"mark":{"type":"area","color":"#b3b1b1"},"encoding":{"x":{"field":"x","type":"quantitative","scale":{"domain":[0,1188],"range":[350,746]},"axis":null},"y":{"field":"h","type":"quantitative","scale":{"domain":[0,64],"range":[202.33,181]},"axis":null}}},
{"data":{"name":"d2c"},"mark":{"type":"area","color":"#b3b1b1"},"encoding":{"x":{"field":"x","type":"quantitative","scale":{"domain":[0,1188],"range":[350,746]},"axis":null},"y":{"field":"h","type":"quantitative","scale":{"domain":[0,64],"range":[223.33,202]},"axis":null}}},
{"data":{"name":"d2m"},"mark":{"type":"area","color":"#00008b"},"encoding":{"x":{"field":"x","type":"quantitative","scale":{"domain":[0,1188],"range":[350,746]},"axis":null},"y":{"field":"h","type":"quantitative","scale":{"domain":[0,64],"range":[255.67,234.33]},"axis":null}}},
{"data":{"name":"ea"},"mark":{"type":"area","color":"#b3b1b1"},"encoding":{"x":{"field":"x","type":"quantitative","scale":{"domain":[0,1188],"range":[350,746]},"axis":null},"y":{"field":"h","type":"quantitative","scale":{"domain":[0,64],"range":[342.33,321]},"axis":null}}},
{"data":{"name":"eb"},"mark":{"type":"area","color":"#b3b1b1"},"encoding":{"x":{"field":"x","type":"quantitative","scale":{"domain":[0,1188],"range":[350,746]},"axis":null},"y":{"field":"h","type":"quantitative","scale":{"domain":[0,64],"range":[359.33,338]},"axis":null}}},
{"data":{"name":"em"},"mark":{"type":"area","color":"#00008b"},"encoding":{"x":{"field":"x","type":"quantitative","scale":{"domain":[0,1188],"range":[350,746]},"axis":null},"y":{"field":"h","type":"quantitative","scale":{"domain":[0,64],"range":[375.33,354]},"axis":null}}},
{"data":{"name":"zm"},"mark":{"type":"area","color":"#00008b"},"encoding":{"x":{"field":"x","type":"quantitative","scale":{"domain":[0,1188],"range":[350,746]},"axis":null},"y":{"field":"h","type":"quantitative","scale":{"domain":[0,64],"range":[462.33,441]},"axis":null}}},
{"data":{"name":"barsA"},"mark":{"type":"bar","color":"#b3b1b1"},"encoding":{"x":{"field":"b","type":"ordinal","scale":{"type":"band","range":[429.33,730],"paddingInner":0.06,"paddingOuter":0},"axis":null},"y":{"field":"h","type":"quantitative","scale":{"domain":[0,64],"range":[433.33,412]},"axis":null}}},
{"data":{"name":"barsB"},"mark":{"type":"bar","color":"#b3b1b1"},"encoding":{"x":{"field":"b","type":"ordinal","scale":{"type":"band","range":[429.33,730],"paddingInner":0.06,"paddingOuter":0},"axis":null},"y":{"field":"h","type":"quantitative","scale":{"domain":[0,64],"range":[447.33,426]},"axis":null}}},
{"encoding":{"x":{"field":"x","type":"quantitative","scale":{"domain":[0,1188],"range":[350,746]},"axis":null},"y":{"field":"y","type":"quantitative","scale":{"domain":[0,1518],"range":[0,506]},"axis":null}},
"layer":[
{"data":{"values":[{"x":298,"x2":1125,"y":84,"y2":84},{"x":298,"x2":1125,"y":148,"y2":148},{"x":298,"x2":1125,"y":212,"y2":212},{"x":298,"x2":1125,"y":283,"y2":283},{"x":298,"x2":1125,"y":347,"y2":347},{"x":302,"x2":1128,"y":485,"y2":485},{"x":302,"x2":1128,"y":543,"y2":543},{"x":302,"x2":1128,"y":607,"y2":607},{"x":302,"x2":1128,"y":670,"y2":670},{"x":302,"x2":1128,"y":767,"y2":767},{"x":265,"x2":1075,"y":980,"y2":980},{"x":265,"x2":1075,"y":1027,"y2":1027},{"x":265,"x2":1075,"y":1078,"y2":1078},{"x":265,"x2":1075,"y":1128,"y2":1128},{"x":238,"x2":1140,"y":1409,"y2":1409},{"x":238,"x2":1140,"y":1251,"y2":1251}]},"mark":{"type":"rule","color":"#ababab","strokeWidth":0.8},"encoding":{"x2":{"field":"x2"},"y2":{"field":"y2"}}},
{"data":{"values":[{"x":298,"x2":1125,"y":358,"y2":358},{"x":298,"x2":1125,"y":364,"y2":364},{"x":302,"x2":1128,"y":775,"y2":775},{"x":302,"x2":1128,"y":784,"y2":784},{"x":265,"x2":1075,"y":1132,"y2":1132},{"x":265,"x2":1075,"y":1142,"y2":1142},{"x":1146,"x2":1146,"y":1247,"y2":1445},{"x":231,"x2":231,"y":1247,"y2":1445}]},"mark":{"type":"rule","color":"#8a8a8a","strokeWidth":1.4},"encoding":{"x2":{"field":"x2"},"y2":{"field":"y2"}}},
{"data":{"values":[{"x":410,"x2":230,"y":1153,"y2":1247},{"x":441,"x2":1148,"y":1163,"y2":1247}]},"mark":{"type":"rule","color":"#333","strokeWidth":0.8},"encoding":{"x2":{"field":"x2"},"y2":{"field":"y2"}}},
{"data":{"values":[{"x":396,"x2":1115,"y":810,"y2":810},{"x":441,"x2":1030,"y":1154,"y2":1154}]},"mark":{"type":"rule","color":"#00008b","strokeWidth":0.8},"encoding":{"x2":{"field":"x2"},"y2":{"field":"y2"}}},
{"data":{"values":[{"x":330,"x2":627,"y":378,"y2":392},{"x":627,"x2":860,"y":372,"y2":398},{"x":860,"x2":1105,"y":378,"y2":392},{"x":340,"x2":382,"y":805,"y2":815},{"x":382,"x2":396,"y":800,"y2":822},{"x":434,"x2":444,"y":800,"y2":822},{"x":454,"x2":468,"y":800,"y2":822},{"x":485,"x2":514,"y":800,"y2":822},{"x":612,"x2":620,"y":800,"y2":822},{"x":650,"x2":672,"y":800,"y2":822},{"x":710,"x2":725,"y":800,"y2":822},{"x":737,"x2":748,"y":800,"y2":822},{"x":778,"x2":788,"y":800,"y2":822},{"x":828,"x2":837,"y":800,"y2":822},{"x":854,"x2":868,"y":800,"y2":822},{"x":900,"x2":917,"y":800,"y2":822},{"x":926,"x2":940,"y":800,"y2":822},{"x":1010,"x2":1030,"y":800,"y2":822},{"x":1115,"x2":1120,"y":805,"y2":815},{"x":275,"x2":410,"y":1149,"y2":1160},{"x":410,"x2":441,"y":1147,"y2":1162},{"x":467,"x2":507,"y":1147,"y2":1162},{"x":528,"x2":627,"y":1147,"y2":1162},{"x":726,"x2":779,"y":1147,"y2":1162},{"x":807,"x2":836,"y":1147,"y2":1162},{"x":1030,"x2":1046,"y":1149,"y2":1160},{"x":238,"x2":1040,"y":1434,"y2":1443}]},"mark":{"type":"rect","color":"#00008b"},"encoding":{"x2":{"field":"x2"},"y2":{"field":"y2"}}},
{"data":{"values":[{"x":558,"x2":568,"y":90,"y2":140,"c":"orange"},{"x":556,"x2":570,"y":140,"y2":148,"c":"green"},{"x":592,"x2":597,"y":120,"y2":142,"c":"green"},{"x":606,"x2":616,"y":118,"y2":146,"c":"orange"},{"x":362,"x2":368,"y":134,"y2":148,"c":"faint"},{"x":923,"x2":928,"y":130,"y2":148,"c":"faint"},{"x":923,"x2":929,"y":190,"y2":212,"c":"faint"},{"x":923,"x2":927,"y":262,"y2":283,"c":"faint"},{"x":590,"x2":595,"y":248,"y2":283,"c":"faint"},{"x":345,"x2":349,"y":528,"y2":543,"c":"faint"},{"x":352,"x2":356,"y":530,"y2":543,"c":"faint"},{"x":362,"x2":367,"y":487,"y2":543,"c":"faint"},{"x":372,"x2":376,"y":520,"y2":543,"c":"faint"},{"x":382,"x2":386,"y":515,"y2":543,"c":"faint"},{"x":712,"x2":716,"y":525,"y2":543,"c":"faint"},{"x":718,"x2":722,"y":530,"y2":543,"c":"faint"},{"x":400,"x2":412,"y":982,"y2":1027,"c":"faint"},{"x":417,"x2":440,"y":1269,"y2":1292,"c":"orange"},{"x":417,"x2":440,"y":1292,"y2":1298,"c":"green"},{"x":742,"x2":766,"y":1260,"y2":1284,"c":"orange"},{"x":742,"x2":766,"y":1284,"y2":1296,"c":"green"},{"x":1040,"x2":1115,"y":1433,"y2":1446,"c":"red"},{"x":1115,"x2":1140,"y":1434,"y2":1445,"c":"slate"}]},"mark":{"type":"rect"},"encoding":{"x2":{"field":"x2"},"y2":{"field":"y2"},"color":{"field":"c","type":"nominal","legend":null,"scale":{"domain":["orange","green","faint","red","slate"],"range":["#cf7d2a","#35b852","#c9a27c","#f01212","#5566aa"]}}}},
{"data":{"values":[{"x":272,"y":918},{"x":340,"y":1033},{"x":397,"y":1033},{"x":403,"y":1033},{"x":408,"y":1033},{"x":415,"y":1033}]},"mark":{"type":"point","shape":"triangle-up","filled":true,"size":7,"color":"#a020a0","opacity":1}},
{"data":{"values":[{"x":280,"y":115,"t":"APOBEC1-YTH"},{"x":275,"y":183,"t":"APOBEC1"},{"x":280,"y":258,"t":"APOBEC1-YTHᵐᵘᵗ"},{"x":278,"y":328,"t":"m⁶A"},{"x":280,"y":526,"t":"APOBEC1-YTH"},{"x":275,"y":577,"t":"APOBEC1"},{"x":280,"y":650,"t":"APOBEC1-YTHᵐᵘᵗ"},{"x":278,"y":725,"t":"m⁶A"},{"x":248,"y":1005,"t":"APOBEC1-YTH"},{"x":245,"y":1055,"t":"APOBEC1"},{"x":247,"y":1108,"t":"m⁶A"},{"x":222,"y":1287,"t":"APOBEC1-YTH"},{"x":218,"y":1328,"t":"APOBEC1"},{"x":220,"y":1375,"t":"m⁶A"}]},"mark":{"type":"text","align":"right"},"encoding":{"text":{"field":"t"}}},
{"data":{"values":[{"x":1098,"y":115,"t":"563"},{"x":1102,"y":176,"t":"238"},{"x":1100,"y":239,"t":"378"},{"x":1095,"y":302,"t":"6,987"},{"x":308,"y":388,"t":"3′"},{"x":1118,"y":388,"t":"5′"},{"x":1095,"y":505,"t":"2,185"},{"x":1098,"y":565,"t":"796"},{"x":1095,"y":626,"t":"1,422"},{"x":1090,"y":695,"t":"12,803"},{"x":318,"y":812,"t":"3′"},{"x":1142,"y":808,"t":"5′"},{"x":1048,"y":995,"t":"897"},{"x":1050,"y":1043,"t":"623"},{"x":1046,"y":1093,"t":"2,600"},{"x":257,"y":1157,"t":"3′"},{"x":1068,"y":1157,"t":"5′"}]},"mark":{"type":"text","align":"center"},"encoding":{"text":{"field":"t"}}},
{"data":{"values":[{"x":287,"y":918,"t":"Called editing sit"},{"x":236,"y":1483,"t":"Called m⁶A site (Linder et al. ref⁵)"}]},"mark":{"type":"text","align":"left"},"encoding":{"text":{"field":"t"}}},
{"data":{"values":[{"x":750,"y":423,"t":"JUN"},{"x":722,"y":843,"t":"EEF2"},{"x":770,"y":954,"t":"ACTB"}]},"mark":{"type":"text","align":"center","fontStyle":"italic"},"encoding":{"text":{"field":"t"}}},
{"data":{"values":[{"x":25,"y":48,"t":"d"},{"x":22,"y":905,"t":"e"}]},"mark":{"type":"text","align":"center","fontWeight":"bold","fontSize":11,"color":"#111"},"encoding":{"text":{"field":"t"}}},
{"data":{"values":[{"x":557,"y":68,"t":"C"},{"x":573,"y":68,"t":"/"},{"x":590,"y":68,"t":"U"},{"x":357,"y":463,"t":"C"},{"x":372,"y":463,"t":"/"},{"x":388,"y":463,"t":"U"},{"x":391,"y":954,"t":"C"},{"x":405,"y":954,"t":"/"},{"x":423,"y":954,"t":"U"},{"x":414,"y":1228,"t":"C"},{"x":428,"y":1228,"t":"/"},{"x":445,"y":1228,"t":"U"},{"x":741,"y":1225,"t":"C"},{"x":756,"y":1225,"t":"/"},{"x":772,"y":1225,"t":"U"}]},"mark":{"type":"text","align":"center"},"encoding":{"text":{"field":"t"},"color":{"field":"t","type":"nominal","legend":null,"scale":{"domain":["C","/","U"],"range":["#c8702e","#555555","#3fd068"]}}}},
{"data":{"values":[{"x":678,"y":385,"t":"‹"},{"x":725,"y":385,"t":"‹"},{"x":772,"y":385,"t":"‹"},{"x":818,"y":385,"t":"‹"}]},"mark":{"type":"text","align":"center","color":"#ffffff","fontSize":8},"encoding":{"text":{"field":"t"}}},
{"data":{"values":[{"x":453,"y":1392,"t":"*"},{"x":777,"y":1392,"t":"*"},{"x":228,"y":1472,"t":"*"}]},"mark":{"type":"text","align":"center","color":"#e01030","fontSize":11},"encoding":{"text":{"field":"t"}}},
{"data":{"values":[{"x":428,"y":1279,"t":"80%"},{"x":428,"y":1320,"t":"0%"},{"x":755,"y":1290,"t":"80%"},{"x":755,"y":1311,"t":"0%"}]},"mark":{"type":"text","align":"center","fontSize":4.5},"encoding":{"text":{"field":"t"}}},
{"data":{"values":[{"x":250,"y":1422,"t":"T"},{"x":275,"y":1422,"t":"T"},{"x":300,"y":1422,"t":"T"},{"x":326,"y":1422,"t":"C"},{"x":351,"y":1422,"t":"C"},{"x":376,"y":1422,"t":"C"},{"x":401,"y":1422,"t":"A"},{"x":426,"y":1422,"t":"C"},{"x":452,"y":1422,"t":"A"},{"x":477,"y":1422,"t":"T"},{"x":502,"y":1422,"t":"T"},{"x":527,"y":1422,"t":"C"},{"x":552,"y":1422,"t":"G"},{"x":578,"y":1422,"t":"T"},{"x":603,"y":1422,"t":"T"},{"x":628,"y":1422,"t":"T"},{"x":653,"y":1422,"t":"G"},{"x":678,"y":1422,"t":"A"},{"x":704,"y":1422,"t":"T"},{"x":729,"y":1422,"t":"T"},{"x":754,"y":1422,"t":"C"},{"x":779,"y":1422,"t":"A"},{"x":804,"y":1422,"t":"C"},{"x":830,"y":1422,"t":"T"},{"x":855,"y":1422,"t":"A"},{"x":880,"y":1422,"t":"T"},{"x":905,"y":1422,"t":"C"},{"x":930,"y":1422,"t":"A"},{"x":956,"y":1422,"t":"G"},{"x":981,"y":1422,"t":"G"},{"x":1006,"y":1422,"t":"C"},{"x":1031,"y":1422,"t":"A"},{"x":1056,"y":1422,"t":"G"},{"x":1082,"y":1422,"t":"A"},{"x":1107,"y":1422,"t":"T"},{"x":1132,"y":1422,"t":"C"}]},"mark":{"type":"text","align":"center","fontSize":4.5},"encoding":{"text":{"field":"t"},"color":{"field":"t","type":"nominal","legend":null,"scale":{"domain":["A","C","G","T"],"range":["#2a9d3a","#3050d0","#c88a20","#d03030"]}}}}
]}
]}
